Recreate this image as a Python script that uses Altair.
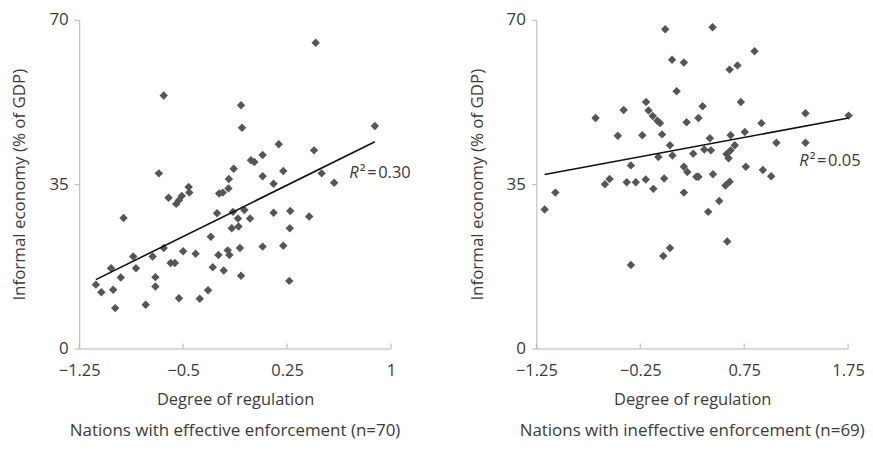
import altair as alt
import pandas as pd

# ---- data ----
left_x = [-1.13, -1.09, -1.02, -1.005, -0.99, -0.95, -0.93, -0.86, -0.84, -0.77,
          -0.72, -0.70, -0.70, -0.675, -0.64, -0.64, -0.605, -0.59, -0.56, -0.55,
          -0.53, -0.53, -0.51, -0.50, -0.46, -0.455, -0.41, -0.38, -0.32, -0.30,
          -0.286, -0.255, -0.245, -0.24, -0.214, -0.207, -0.178, -0.173, -0.17, -0.166,
          -0.149, -0.14, -0.135, -0.104, -0.10, -0.09, -0.082, -0.082, -0.075, -0.058,
          -0.017, -0.01, 0.014, 0.074, 0.074, 0.074, 0.153, 0.153, 0.19, 0.223,
          0.223, 0.266, 0.27, 0.273, 0.41, 0.445, 0.457, 0.50, 0.59, 0.884]
left_y = [13.6, 12.0, 17.1, 12.5, 8.6, 15.1, 27.8, 19.6, 17.1, 9.3,
          19.6, 15.2, 13.2, 37.3, 53.9, 21.4, 32.1, 18.2, 18.2, 30.8,
          10.7, 31.6, 32.5, 20.7, 34.4, 33.2, 20.2, 10.6, 12.4, 23.8,
          17.3, 28.8, 19.9, 33.0, 33.2, 16.6, 20.9, 34.1, 36.1, 19.9,
          25.6, 29.1, 38.3, 27.7, 26.0, 21.4, 15.5, 51.8, 47.0, 29.5,
          27.7, 40.1, 39.7, 41.2, 36.7, 21.7, 35.1, 28.9, 43.5, 37.8,
          21.9, 14.4, 25.6, 29.3, 28.1, 42.2, 65.1, 37.3, 35.3, 47.4]

right_x = [-1.17, -1.067, -0.68, -0.59, -0.545, -0.466, -0.41, -0.38, -0.34, -0.34,
           -0.293, -0.23, -0.197, -0.194, -0.17, -0.13, -0.085, -0.06, -0.124, -0.076,
           -0.04, -0.02, -0.01, -0.028, 0.036, 0.036, 0.056, 0.06, 0.10, 0.17,
           0.17, 0.17, 0.196, 0.203, 0.26, 0.29, 0.31, 0.31, 0.35, 0.366,
           0.404, 0.42, 0.43, 0.446, 0.45, 0.51, 0.57, 0.58, 0.587, 0.60,
           0.61, 0.61, 0.62, 0.62, 0.66, 0.686, 0.718, 0.756, 0.766, 0.85,
           0.916, 0.93, 1.01, 1.06, 1.34, 1.34, 1.755]
right_y = [29.6, 33.2, 49.1, 35.0, 36.1, 45.3, 50.8, 35.4, 39.0, 17.8,
           35.4, 45.4, 36.0, 52.5, 50.7, 49.5, 48.5, 48.0, 34.0, 40.8,
           45.6, 36.2, 68.0, 19.7, 43.3, 21.4, 61.5, 41.1, 54.8, 60.9,
           33.2, 38.7, 48.2, 37.6, 41.5, 36.6, 49.1, 36.6, 51.6, 42.4,
           29.1, 44.8, 42.2, 68.4, 37.1, 31.4, 34.7, 41.4, 22.8, 40.5,
           59.4, 35.5, 45.4, 42.2, 43.3, 60.3, 52.5, 46.1, 38.7, 63.3,
           48.0, 38.0, 36.7, 43.8, 50.1, 43.8, 49.6]

left_ticks = [-1.25, -0.5, 0.25, 1]
right_ticks = [-1.25, -0.25, 0.75, 1.75]
y_ticks = [0, 35, 70]

left_r2 = {"x": 0.70, "y": 37.3, "value": "0.30"}
right_r2 = {"x": 1.28, "y": 39.9, "value": "0.05"}

left_caption = "Nations with effective enforcement (n=70)"
right_caption = "Nations with ineffective enforcement (n=69)"

W, H = 313, 330
FONT = "Open Sans"
TXT = "#3a3a3a"
AX = "#b4b4b4"


def panel(xs, ys, xticks, r2, caption):
    df = pd.DataFrame({"x": xs, "y": ys})
    xscale = alt.Scale(domain=[xticks[0], xticks[-1]], nice=False, zero=False)
    yscale = alt.Scale(domain=[0, 70], nice=False, zero=False)
    xaxis = alt.Axis(values=xticks, title="Degree of regulation", ticks=False,
                     tickSize=0, grid=False,
                     labelExpr="format(datum.value, '~g')",
                     labelPadding=14, titlePadding=13, domainColor=AX,
                     labelFontSize=16.5, titleFontSize=16.5, labelFont=FONT,
                     titleFont=FONT, labelColor=TXT, titleColor=TXT,
                     titleFontWeight="normal", labelFlush=False,
                     labelOverlap=False)
    yaxis = alt.Axis(values=y_ticks, title="Informal economy (% of GDP)",
                     grid=False, tickSize=5, tickColor=AX, domainColor=AX,
                     labelPadding=6, titlePadding=20,
                     labelFontSize=17, titleFontSize=17, labelFont=FONT,
                     titleFont=FONT, labelColor=TXT, titleColor=TXT,
                     titleFontWeight="normal")
    base = alt.Chart(df)
    pts = base.mark_point(shape="diamond", filled=True, size=72, color="#565656",
                          opacity=1).encode(
        x=alt.X("x:Q", scale=xscale, axis=xaxis),
        y=alt.Y("y:Q", scale=yscale, axis=yaxis),
    )
    line = base.transform_regression("x", "y").mark_line(
        color="#111111", strokeWidth=1.6).encode(x="x:Q", y="y:Q")
    tk = alt.Chart(pd.DataFrame({"t": xticks})).mark_rule(
        color=AX, strokeWidth=1).encode(
        x="t:Q", y=alt.value(H), y2=alt.value(H - 5))
    rdf = pd.DataFrame([r2])
    r_txt = alt.Chart(rdf).mark_text(
        text="R", font=FONT, fontSize=16.5, fontStyle="italic", color=TXT,
        align="left", baseline="middle").encode(x="x:Q", y="y:Q")
    v_txt = alt.Chart(rdf).transform_calculate(
        lab="'²\u200a=\u200a' + datum.value").mark_text(
        font=FONT, fontSize=16.5, color=TXT, align="left", baseline="middle",
        dx=10.5).encode(x="x:Q", y="y:Q", text="lab:N")
    return alt.layer(pts, line, tk, r_txt, v_txt).properties(
        width=W, height=H,
        title=alt.Title(caption, orient="bottom", font=FONT, fontSize=17,
                        fontWeight="normal", color=TXT, offset=15,
                        anchor="middle"),
    )


chart = alt.hconcat(
    panel(left_x, left_y, left_ticks, left_r2, left_caption),
    panel(right_x, right_y, right_ticks, right_r2, right_caption),
    spacing=57,
).properties(
    padding={"left": 2.5, "top": 2, "right": 0, "bottom": 0},
    background="white",
).configure_view(stroke=None)

chart.save("out.html", embed_options={"renderer": "svg", "actions": False})
